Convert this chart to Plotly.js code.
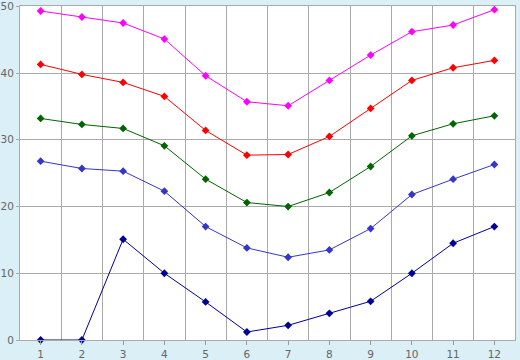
<!DOCTYPE html>
<html>
<head>
<meta charset="utf-8">
<script src="https://cdn.plot.ly/plotly-3.0.1.min.js"></script>
<style>html,body{margin:0;padding:0;background:#daeff6;}#chart{width:520px;height:360px;}</style>
</head>
<body>
<div id="chart"></div>
<script>
var months = [1,2,3,4,5,6,7,8,9,10,11,12];
var seriesMagenta = [49.3,48.4,47.5,45.1,39.6,35.7,35.1,38.9,42.7,46.2,47.2,49.5];
var seriesRed     = [41.3,39.8,38.6,36.5,31.4,27.7,27.8,30.5,34.7,38.9,40.8,41.9];
var seriesGreen   = [33.2,32.3,31.7,29.1,24.1,20.6,20.0,22.1,26.0,30.6,32.4,33.6];
var seriesBlue    = [26.8,25.7,25.3,22.3,17.0,13.8,12.4,13.5,16.7,21.8,24.1,26.3];
var seriesNavy    = [0,0,15.1,10.0,5.7,1.2,2.2,4.0,5.8,10.0,14.5,17.0];
var yTicks = [0,10,20,30,40,50];

function tr(y, color){
  return {x: months, y: y, type:'scatter', mode:'lines+markers',
    line:{color:color, width:1}, marker:{symbol:'diamond', size:6, color:color},
    hoverinfo:'skip', showlegend:false, cliponaxis:false};
}
var data = [tr(seriesNavy,'#000099'), tr(seriesBlue,'#3535cc'), tr(seriesGreen,'#006400'),
            tr(seriesRed,'#ff0000'), tr(seriesMagenta,'#ff00ff')];
var layout = {
  width:520, height:360,
  margin:{l:20, r:5, t:6, b:20},
  paper_bgcolor:'#daeff6', plot_bgcolor:'#ffffff',
  font:{family:'Verdana, DejaVu Sans, sans-serif', size:10.5, color:'#666666'},
  xaxis:{range:[0.5,12.5], tickvals:months, ticktext:months.map(String),
    ticks:'outside', ticklen:4, tickcolor:'#999999', showgrid:false, zeroline:false,
    showline:true, linecolor:'#aaaaaa', mirror:true,
    minor:{tick0:1.5, dtick:1, showgrid:true, gridcolor:'#aaaaaa', gridwidth:1, ticks:''}},
  yaxis:{range:[0,50.05], tickvals:yTicks, ticks:'outside', ticklen:3, tickcolor:'#aaaaaa',
    showgrid:true, gridcolor:'#aaaaaa', zeroline:false, showline:true, linecolor:'#aaaaaa', mirror:true}
};
Plotly.newPlot('chart', data, layout, {displayModeBar:false, staticPlot:true});
</script>
</body>
</html>
